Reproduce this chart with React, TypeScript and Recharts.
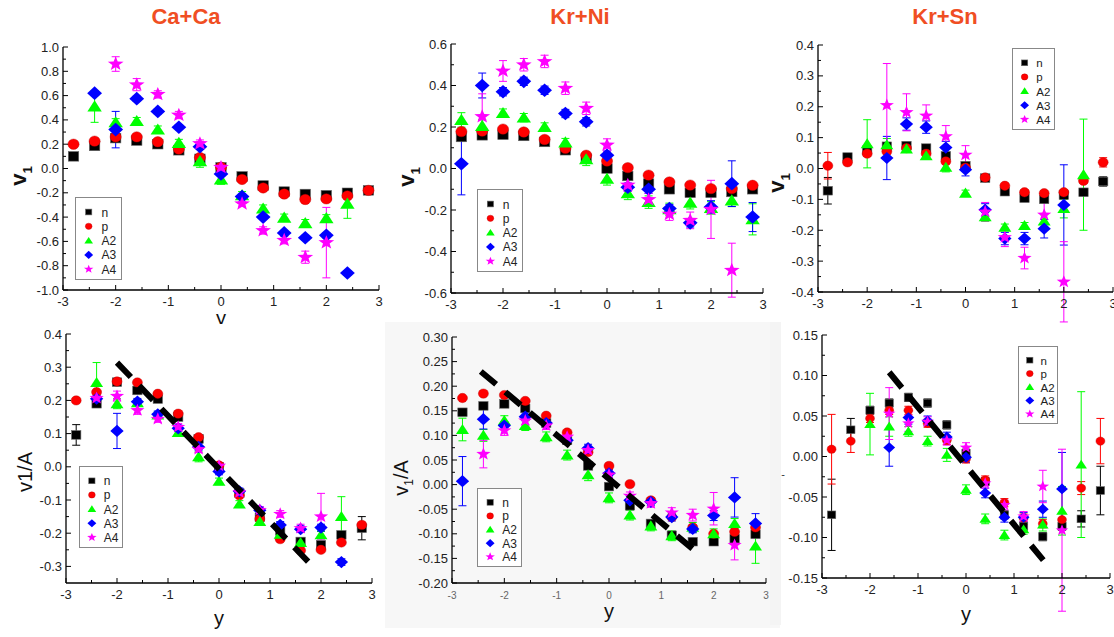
import React from 'react';
import { ScatterChart, Scatter, XAxis, YAxis, ErrorBar, Legend } from 'recharts';

const FONT = '"Liberation Sans", Arial, sans-serif';
const SERIES = ['n', 'p', 'A2', 'A3', 'A4'];
const COLORS: Record<string, string> = { n: '#000000', p: '#ff0000', A2: '#00ff00', A3: '#0000ff', A4: '#ff00ff' };
const RAPIDITY = [-2.8, -2.4, -2.0, -1.6, -1.2, -0.8, -0.4, 0, 0.4, 0.8, 1.2, 1.6, 2.0, 2.4, 2.8];
const X_TICKS = [-3, -2.5, -2, -1.5, -1, -0.5, 0, 0.5, 1, 1.5, 2, 2.5, 3];

// ---------- Ca+Ca v1 ----------
const caV1N = [0.10, 0.186, 0.25, 0.23, 0.20, 0.15, 0.08, 0.01, -0.065, -0.14, -0.19, -0.21, -0.22, -0.20, -0.18];
const caV1P = [0.20, 0.225, 0.26, 0.26, 0.22, 0.16, 0.09, 0.01, -0.09, -0.16, -0.21, -0.255, -0.25, -0.225, -0.18];
const caV1A2 = [null, 0.51, 0.38, 0.39, 0.32, 0.21, 0.06, -0.09, -0.22, -0.33, -0.405, -0.45, -0.41, -0.29, null];
const caV1A3 = [null, 0.62, 0.32, 0.575, 0.47, 0.34, 0.18, -0.045, -0.23, -0.40, -0.53, -0.57, -0.55, -0.86, null];
const caV1A4 = [null, null, 0.86, 0.69, 0.61, 0.44, 0.205, 0.01, -0.29, -0.51, -0.59, -0.73, -0.61, null, null];
const caV1A2Err = [0, 0.13, 0.03, 0.03, 0.03, 0.03, 0.05, 0.04, 0.03, 0.03, 0.03, 0.03, 0.03, 0.12, 0];
const caV1A3Err = [0, 0.01, 0.15, 0.02, 0.02, 0.02, 0.02, 0.02, 0.02, 0.02, 0.02, 0.02, 0.02, 0.02, 0];
const caV1A4Err = [0, 0, 0.06, 0.05, 0.03, 0.03, 0.03, 0.03, 0.02, 0.03, 0.03, 0.05, 0.29, 0, 0];

// ---------- Kr+Ni v1 ----------
const niV1N = [0.152, 0.16, 0.163, 0.157, 0.128, 0.088, 0.047, 0.0, -0.036, -0.073, -0.10, -0.117, -0.117, -0.113, -0.10];
const niV1P = [0.178, 0.18, 0.19, 0.176, 0.14, 0.097, 0.064, 0.036, 0.004, -0.032, -0.065, -0.08, -0.097, -0.097, -0.081];
const niV1A2 = [0.234, 0.205, 0.267, 0.245, 0.2, 0.125, 0.044, -0.05, -0.12, -0.162, -0.197, -0.165, -0.19, -0.154, -0.245];
const niV1A3 = [0.023, 0.40, 0.37, 0.42, 0.377, 0.265, 0.225, 0.064, -0.09, -0.10, -0.193, -0.262, -0.185, -0.073, -0.234];
const niV1A4 = [null, 0.25, 0.47, 0.50, 0.516, 0.387, 0.29, 0.113, -0.08, -0.15, -0.22, -0.25, -0.197, -0.49, null];
const niV1A2Err = [0.035, 0.03, 0.02, 0.02, 0.02, 0.02, 0.03, 0.03, 0.03, 0.03, 0.03, 0.03, 0.03, 0.03, 0.075];
const niV1A3Err = [0.15, 0.06, 0.02, 0.02, 0.02, 0.02, 0.02, 0.02, 0.02, 0.02, 0.02, 0.02, 0.03, 0.11, 0.07];
const niV1A4Err = [0, 0.11, 0.05, 0.03, 0.03, 0.03, 0.03, 0.03, 0.03, 0.03, 0.03, 0.04, 0.14, 0.13, 0];

// ---------- Kr+Sn v1 ----------
const snV1N = [-0.072, 0.037, 0.059, 0.072, 0.074, 0.066, 0.041, 0.009, -0.031, -0.075, -0.096, -0.10, -0.086, -0.077, -0.042];
const snV1P = [0.009, 0.02, 0.048, 0.055, 0.066, 0.048, 0.023, 0.003, -0.029, -0.056, -0.077, -0.08, -0.077, -0.04, 0.02];
const snV1A2 = [null, null, 0.08, 0.077, 0.063, 0.041, 0.004, -0.08, -0.156, -0.19, -0.185, -0.17, -0.13, -0.02, null];
const snV1A3 = [null, null, null, 0.034, 0.144, 0.134, 0.068, -0.004, -0.134, -0.227, -0.227, -0.195, -0.118, null, null];
const snV1A4 = [null, null, null, 0.205, 0.182, 0.171, 0.104, 0.044, -0.14, -0.223, -0.29, -0.15, -0.367, null, null];
const snV1NErr = [0.043, 0.008, 0.008, 0.008, 0.008, 0.008, 0.008, 0.008, 0.008, 0.008, 0.008, 0.008, 0.008, 0.008, 0.015];
const snV1PErr = [0.043, 0.008, 0.008, 0.008, 0.008, 0.008, 0.008, 0.008, 0.008, 0.008, 0.008, 0.008, 0.008, 0.008, 0.015];
const snV1A2Err = [0, 0, 0.078, 0.02, 0.01, 0.01, 0.015, 0.01, 0.015, 0.01, 0.01, 0.02, 0.03, 0.18, 0];
const snV1A3Err = [0, 0, 0, 0.07, 0.02, 0.02, 0.02, 0.02, 0.02, 0.02, 0.02, 0.03, 0.13, 0, 0];
const snV1A4Err = [0, 0, 0, 0.135, 0.06, 0.035, 0.035, 0.03, 0.03, 0.03, 0.035, 0.04, 0.13, 0, 0];

// ---------- Ca+Ca v1/A ----------
const caAN = [0.096, 0.19, 0.255, 0.23, 0.204, 0.15, 0.084, 0.0, -0.079, -0.152, -0.193, -0.225, -0.235, -0.205, -0.185];
const caAP = [0.20, 0.225, 0.257, 0.254, 0.22, 0.16, 0.089, 0.004, -0.086, -0.157, -0.218, -0.252, -0.25, -0.228, -0.175];
const caAA2 = [null, 0.254, 0.19, 0.193, 0.156, 0.103, 0.03, -0.044, -0.112, -0.165, -0.203, -0.228, -0.205, -0.15, null];
const caAA3 = [null, 0.205, 0.108, 0.196, 0.158, 0.116, 0.06, -0.014, -0.074, -0.131, -0.175, -0.188, -0.183, -0.287, null];
const caAA4 = [null, 0.207, 0.213, 0.17, 0.144, 0.12, 0.053, 0.003, -0.077, -0.13, -0.142, -0.185, -0.15, null, null];
const caANErr = [0.031, 0.01, 0.005, 0.005, 0.005, 0.005, 0.005, 0.005, 0.005, 0.005, 0.005, 0.005, 0.01, 0.01, 0.035];
const caAA2Err = [0, 0.06, 0.015, 0.01, 0.01, 0.01, 0.015, 0.01, 0.01, 0.01, 0.01, 0.01, 0.01, 0.06, 0];
const caAA3Err = [0, 0.01, 0.053, 0.01, 0.01, 0.01, 0.01, 0.01, 0.01, 0.01, 0.01, 0.01, 0.01, 0.01, 0];
const caAA4Err = [0, 0.01, 0.015, 0.012, 0.01, 0.01, 0.01, 0.01, 0.01, 0.01, 0.01, 0.012, 0.07, 0, 0];
const caFitX = [-2.0, 1.9];
const caFitY = [0.314, -0.31];

// ---------- Kr+Ni v1/A ----------
const niAN = [0.147, 0.16, 0.164, 0.155, 0.125, 0.09, 0.038, -0.004, -0.043, -0.079, -0.103, -0.116, -0.116, -0.11, -0.101];
const niAP = [0.176, 0.185, 0.182, 0.17, 0.14, 0.106, 0.066, 0.038, 0.001, -0.032, -0.066, -0.087, -0.10, -0.096, -0.087];
const niAA2 = [0.112, 0.10, 0.13, 0.12, 0.097, 0.06, 0.02, -0.027, -0.062, -0.084, -0.104, -0.087, -0.10, -0.079, -0.125];
const niAA3 = [0.007, 0.133, 0.12, 0.138, 0.125, 0.09, 0.074, 0.023, -0.032, -0.035, -0.066, -0.09, -0.063, -0.026, -0.079];
const niAA4 = [null, 0.062, 0.11, 0.13, 0.12, 0.097, 0.07, 0.02, -0.023, -0.038, -0.057, -0.062, -0.049, -0.123, null];
const niAA2Err = [0.023, 0.012, 0.01, 0.01, 0.01, 0.01, 0.012, 0.01, 0.01, 0.01, 0.01, 0.01, 0.01, 0.01, 0.035];
const niAA3Err = [0.05, 0.02, 0.008, 0.008, 0.008, 0.008, 0.008, 0.008, 0.008, 0.008, 0.008, 0.008, 0.01, 0.04, 0.02];
const niAA4Err = [0, 0.028, 0.01, 0.008, 0.008, 0.008, 0.008, 0.008, 0.008, 0.008, 0.01, 0.012, 0.033, 0.03, 0];
const niFitX = [-2.45, 1.68];
const niFitY = [0.23, -0.138];

// ---------- Kr+Sn v1/A ----------
const snAN = [-0.072, 0.033, 0.057, 0.066, 0.073, 0.066, 0.039, 0.004, -0.031, -0.072, -0.086, -0.099, -0.086, -0.077, -0.042];
const snAP = [0.009, 0.019, 0.047, 0.057, 0.057, 0.041, 0.02, -0.003, -0.029, -0.057, -0.076, -0.083, -0.078, -0.039, 0.019];
const snAA2 = [null, null, 0.04, 0.037, 0.031, 0.019, 0.002, -0.041, -0.077, -0.097, -0.09, -0.084, -0.067, -0.01, null];
const snAA3 = [null, null, null, 0.011, 0.048, 0.044, 0.024, -0.001, -0.045, -0.075, -0.075, -0.065, -0.04, null, null];
const snAA4 = [null, null, null, 0.053, 0.041, 0.043, 0.02, 0.011, -0.033, -0.06, -0.074, -0.037, -0.091, null, null];
const snANErr = [0.044, 0.014, 0.005, 0.005, 0.005, 0.005, 0.005, 0.005, 0.005, 0.005, 0.005, 0.005, 0.005, 0.01, 0.03];
const snAPErr = [0.043, 0.014, 0.005, 0.005, 0.005, 0.005, 0.005, 0.005, 0.005, 0.005, 0.005, 0.005, 0.008, 0.008, 0.028];
const snAA2Err = [0, 0, 0.038, 0.012, 0.006, 0.006, 0.008, 0.006, 0.006, 0.006, 0.006, 0.008, 0.03, 0.09, 0];
const snAA3Err = [0, 0, 0, 0.023, 0.008, 0.006, 0.006, 0.006, 0.006, 0.006, 0.006, 0.01, 0.045, 0, 0];
const snAA4Err = [0, 0, 0, 0.032, 0.01, 0.006, 0.006, 0.006, 0.006, 0.006, 0.006, 0.02, 0.1, 0, 0];
const snFitX = [-1.6, 1.61];
const snFitY = [0.104, -0.128];

// ---------- tick labels ----------
const caV1YTicks = [-1.0, -0.8, -0.6, -0.4, -0.2, 0, 0.2, 0.4, 0.6, 0.8, 1.0];
const niV1YTicks = [-0.6, -0.4, -0.2, 0, 0.2, 0.4, 0.6];
const snV1YTicks = [-0.4, -0.3, -0.2, -0.1, 0, 0.1, 0.2, 0.3, 0.4];
const caAYTicks = [-0.3, -0.2, -0.1, 0, 0.1, 0.2, 0.3, 0.4];
const niAYTicks = [-0.2, -0.15, -0.1, -0.05, 0, 0.05, 0.1, 0.15, 0.2, 0.25, 0.3];
const snAYTicks = [-0.15, -0.1, -0.05, 0, 0.05, 0.1, 0.15];

function withMinor(major: number[]) {
  const out = [...major];
  for (let i = 0; i < major.length - 1; i++) out.push((major[i] + major[i + 1]) / 2);
  return out.sort((a, b) => a - b);
}

function Marker({ kind, cx, cy, size, color }: any) {
  const s = size;
  if (cx == null || cy == null) return null;
  switch (kind) {
    case 'n':
      return <rect x={cx - s * 0.52} y={cy - s * 0.48} width={s * 1.04} height={s * 0.96} fill={color} stroke="#666" strokeWidth={0.6} />;
    case 'p':
      return <ellipse cx={cx} cy={cy} rx={s * 0.56} ry={s * 0.52} fill={color} stroke="#b00" strokeWidth={0.4} />;
    case 'A2': {
      const w = s * 0.72, ht = s * 0.62;
      return <polygon points={`${cx},${cy - ht} ${cx - w},${cy + ht * 0.8} ${cx + w},${cy + ht * 0.8}`} fill={color} />;
    }
    case 'A3': {
      const w = s * 0.74, ht = s * 0.68;
      return <polygon points={`${cx},${cy - ht} ${cx + w},${cy} ${cx},${cy + ht} ${cx - w},${cy}`} fill={color} />;
    }
    default: {
      const R = s * 0.74, r = R * 0.42;
      const pts: string[] = [];
      for (let i = 0; i < 10; i++) {
        const a = -Math.PI / 2 + (i * Math.PI) / 5;
        const rr = i % 2 === 0 ? R : r;
        pts.push(`${cx + rr * Math.cos(a) * 1.12},${cy + rr * Math.sin(a)}`);
      }
      return <polygon points={pts.join(' ')} fill={color} />;
    }
  }
}

function LegendBox({ w, h }: any) {
  const first = 14 * (h / 83);
  const step = 14.3 * (h / 83);
  const ix = w * 0.27;
  const tx = w * 0.54;
  return (
    <div style={{ width: w, height: h, border: '1px solid #888', background: '#fff', boxSizing: 'border-box' }}>
      <svg width={w - 2} height={h - 2} style={{ display: 'block' }}>
        {SERIES.map((s, i) => (
          <g key={s}>
            <Marker kind={s} cx={ix} cy={first + i * step} size={6} color={COLORS[s]} />
            <text x={tx} y={first + i * step + 4.5} fontSize={w < 44 ? 11.5 : 12} fontFamily={FONT} fill="#222">{s}</text>
          </g>
        ))}
      </svg>
    </div>
  );
}

type PanelCfg = {
  plot: { l: number; t: number; w: number; h: number };
  yDomain: [number, number];
  yMajor: number[];
  dec: number;
  vals: any[];
  errs: any[];
  markerSize: number;
  legend: { x: number; y: number; w: number; h: number };
  fit?: { x: number[]; y: number[] };
  xTickSize?: number;
  xTickColor?: string;
};

function makePoints(vals: (number | null)[], errs?: number[]) {
  return RAPIDITY.map((x, i) => ({ x, y: vals[i], e: errs ? errs[i] : 0 })).filter((d) => d.y !== null);
}

function Panel({ cfg }: { cfg: PanelCfg }) {
  const { plot, yDomain, yMajor, dec, vals, errs, markerSize, legend, fit } = cfg;
  const YW = 50;
  const chartLeft = plot.l - YW;
  const chartTop = plot.t - 10;
  const width = YW + plot.w + 12;
  const height = 10 + plot.h + 40;
  const yTicks = withMinor(yMajor);
  const isMajY = (v: number) => yMajor.some((m) => Math.abs(m - v) < 1e-9);
  const isMajX = (v: number) => Math.abs(v - Math.round(v)) < 1e-9;
  const xFs = cfg.xTickSize ?? 13;
  const xFill = cfg.xTickColor ?? '#222';
  const axisLine = { stroke: '#000', strokeWidth: 1.3 };

  const bottomTick = (p: any) => {
    const v = p.payload.value;
    const maj = isMajX(v);
    return (
      <g>
        <line x1={p.x} x2={p.x} y1={p.y} y2={p.y - (maj ? 5 : 3)} stroke="#000" strokeWidth={1} />
        {maj && (
          <text x={p.x} y={p.y + 16} textAnchor="middle" fontSize={xFs} fontFamily={FONT} fill={xFill}>
            {String(v)}
          </text>
        )}
      </g>
    );
  };
  const topTick = (p: any) => {
    const maj = isMajX(p.payload.value);
    return <line x1={p.x} x2={p.x} y1={p.y} y2={p.y + (maj ? 5 : 3)} stroke="#000" strokeWidth={1} />;
  };
  const leftTick = (p: any) => {
    const v = p.payload.value;
    const maj = isMajY(v);
    return (
      <g>
        <line x1={p.x} x2={p.x + (maj ? 5 : 3)} y1={p.y} y2={p.y} stroke="#000" strokeWidth={1} />
        {maj && (
          <text x={p.x - 4} y={p.y + 4.5} textAnchor="end" fontSize={13} fontFamily={FONT} fill="#222">
            {Math.abs(v) < 1e-9 ? (0).toFixed(dec) : v.toFixed(dec)}
          </text>
        )}
      </g>
    );
  };
  const rightTick = (p: any) => {
    const maj = isMajY(p.payload.value);
    return <line x1={p.x} x2={p.x - (maj ? 5 : 3)} y1={p.y} y2={p.y} stroke="#000" strokeWidth={1} />;
  };

  const fitPts = fit ? fit.x.map((x, i) => ({ x, y: fit.y[i] })) : [];

  return (
    <div style={{ position: 'absolute', left: chartLeft, top: chartTop }}>
      <ScatterChart width={width} height={height} margin={{ top: 10, right: 12, left: 0, bottom: 0 }}>
        <XAxis xAxisId={0} type="number" dataKey="x" domain={[-3, 3]} allowDataOverflow ticks={X_TICKS} interval={0}
          tickSize={0} tickMargin={0} height={40} axisLine={axisLine} tickLine={false} tick={bottomTick} />
        <XAxis xAxisId="t" orientation="top" type="number" dataKey="x" domain={[-3, 3]} allowDataOverflow ticks={X_TICKS}
          interval={0} tickSize={0} tickMargin={0} height={0} axisLine={axisLine} tickLine={false} tick={topTick} />
        <YAxis yAxisId={0} type="number" dataKey="y" domain={yDomain} allowDataOverflow ticks={yTicks} interval={0}
          tickSize={0} tickMargin={0} width={YW} axisLine={axisLine} tickLine={false} tick={leftTick} />
        <YAxis yAxisId="r" orientation="right" type="number" dataKey="y" domain={yDomain} allowDataOverflow ticks={yTicks}
          interval={0} tickSize={0} tickMargin={0} width={0} axisLine={axisLine} tickLine={false} tick={rightTick} />
        {SERIES.map((s, i) => (
          <Scatter key={s} name={s} data={makePoints(vals[i], errs[i])} fill={COLORS[s]} isAnimationActive={false}
            shape={(p: any) => <Marker kind={s} cx={p.cx} cy={p.cy} size={markerSize} color={COLORS[s]} />}>
            {errs[i] && <ErrorBar dataKey="e" direction="y" width={4} stroke={COLORS[s]} strokeWidth={1} />}
          </Scatter>
        ))}
        {fit && (
          <Scatter name="fit" data={fitPts} fill="#000" isAnimationActive={false} legendType="none"
            line={{ strokeWidth: 6, strokeDasharray: '20 12', stroke: '#000' }} shape={() => <g />} />
        )}
        <Legend layout="vertical" align="center" verticalAlign="middle"
          wrapperStyle={{ left: legend.x - chartLeft, top: legend.y - chartTop, width: legend.w, height: legend.h }}
          content={() => <LegendBox w={legend.w} h={legend.h} />} />
      </ScatterChart>
    </div>
  );
}

const PANELS: PanelCfg[] = [
  {
    plot: { l: 63, t: 47, w: 316, h: 243 }, yDomain: [-1, 1], yMajor: caV1YTicks, dec: 1,
    vals: [caV1N, caV1P, caV1A2, caV1A3, caV1A4], errs: [undefined, undefined, caV1A2Err, caV1A3Err, caV1A4Err],
    markerSize: 10, legend: { x: 75, y: 197, w: 47, h: 83 },
  },
  {
    plot: { l: 451, t: 44, w: 312, h: 249 }, yDomain: [-0.6, 0.6], yMajor: niV1YTicks, dec: 1,
    vals: [niV1N, niV1P, niV1A2, niV1A3, niV1A4], errs: [undefined, undefined, niV1A2Err, niV1A3Err, niV1A4Err],
    markerSize: 10, legend: { x: 477, y: 189, w: 46, h: 83 },
  },
  {
    plot: { l: 818, t: 45, w: 295, h: 247 }, yDomain: [-0.4, 0.4], yMajor: snV1YTicks, dec: 1,
    vals: [snV1N, snV1P, snV1A2, snV1A3, snV1A4], errs: [snV1NErr, snV1PErr, snV1A2Err, snV1A3Err, snV1A4Err],
    markerSize: 9, legend: { x: 1012, y: 48, w: 43, h: 82 },
  },
  {
    plot: { l: 66, t: 334, w: 306, h: 249 }, yDomain: [-0.35, 0.4], yMajor: caAYTicks, dec: 1,
    vals: [caAN, caAP, caAA2, caAA3, caAA4], errs: [caANErr, undefined, caAA2Err, caAA3Err, caAA4Err],
    markerSize: 9, legend: { x: 79, y: 466, w: 44, h: 82 }, fit: { x: caFitX, y: caFitY },
  },
  {
    plot: { l: 452, t: 337, w: 314, h: 246 }, yDomain: [-0.2, 0.3], yMajor: niAYTicks, dec: 2,
    vals: [niAN, niAP, niAA2, niAA3, niAA4], errs: [undefined, undefined, niAA2Err, niAA3Err, niAA4Err],
    markerSize: 9, legend: { x: 477, y: 488, w: 45, h: 79 }, fit: { x: niFitX, y: niFitY },
    xTickSize: 10, xTickColor: '#666',
  },
  {
    plot: { l: 822, t: 335, w: 288, h: 243 }, yDomain: [-0.15, 0.15], yMajor: snAYTicks, dec: 2,
    vals: [snAN, snAP, snAA2, snAA3, snAA4], errs: [snANErr, snAPErr, snAA2Err, snAA3Err, snAA4Err],
    markerSize: 8, legend: { x: 1018, y: 346, w: 40, h: 78 }, fit: { x: snFitX, y: snFitY },
  },
];

const TITLES = [
  { text: 'Ca+Ca', x: 186 },
  { text: 'Kr+Ni', x: 580 },
  { text: 'Kr+Sn', x: 945 },
];

function VLabel({ x, y, main, sub, rest, size, bold }: any) {
  return (
    <text transform={`translate(${x},${y}) rotate(-90)`} textAnchor="middle" fontSize={size} fontFamily={FONT}
      fontWeight={bold ? 'bold' : 'normal'} fill="#111">
      <tspan>{main}</tspan>
      {sub && <tspan fontSize={size * 0.6} dy={size * 0.25}>{sub}</tspan>}
      {rest && <tspan dy={sub ? -size * 0.25 : 0}>{rest}</tspan>}
    </text>
  );
}

export default function App() {
  return (
    <div style={{ position: 'absolute', left: 0, top: 0, width: 1114, height: 637, overflow: 'hidden', background: '#fff' }}>
      <div style={{ position: 'absolute', left: 385, top: 322, width: 395, height: 306, background: '#f7f7f7' }} />
      <div style={{ position: 'absolute', left: 770, top: 322, width: 11, height: 303, background: '#f4f4f4' }} />
      <svg width={30} height={20} style={{ position: 'absolute', left: 206, top: 304 }}>
        <text x={15} y={21} textAnchor="middle" fontSize={20} fontFamily={FONT} fill="#111">y</text>
      </svg>
      {PANELS.map((p, i) => <Panel key={i} cfg={p} />)}
      <svg width={1114} height={637} style={{ position: 'absolute', left: 0, top: 0, pointerEvents: 'none' }}>
        {TITLES.map((t) => (
          <text key={t.text} x={t.x} y={24} textAnchor="middle" fontSize={22} fontWeight="bold" fontFamily={FONT} fill="#f04e23">
            {t.text}
          </text>
        ))}
        <VLabel x={26} y={176} main="v" sub="1" size={22} bold />
        <VLabel x={414} y={177} main="v" sub="1" size={22} bold />
        <VLabel x={784} y={183} main="v" sub="1" size={22} bold />
        <VLabel x={32} y={472} main="v1/A" size={20} />
        <VLabel x={408} y={478} main="v" sub="1" rest="/A" size={20} />
        <text x={783} y={478} fontSize={11} fontFamily={FONT} fill="#333" textAnchor="middle">-</text>
        <text x={219} y={625} fontSize={20} fontFamily={FONT} fill="#111" textAnchor="middle">y</text>
        <text x={609} y={618} fontSize={20} fontFamily={FONT} fill="#111" textAnchor="middle">y</text>
        <text x={966} y={621} fontSize={20} fontFamily={FONT} fill="#111" textAnchor="middle">y</text>
      </svg>
    </div>
  );
}
